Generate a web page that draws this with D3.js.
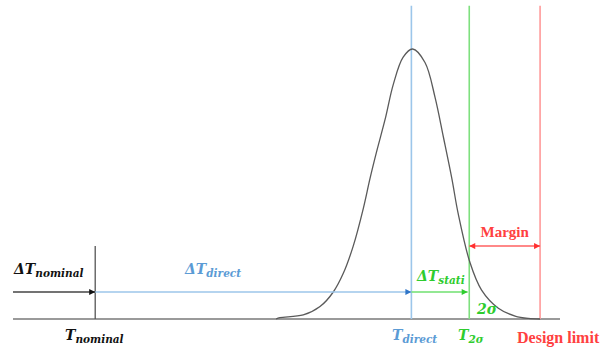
<!DOCTYPE html>
<html>
<head>
<meta charset="utf-8">
<script src="https://cdn.jsdelivr.net/npm/d3@7"></script>
<style>
  body { margin: 0; background: #fff; }
  text { font-family: "DejaVu Serif", "Liberation Serif", serif; }
</style>
</head>
<body>
<script>
var width = 608, height = 349;

// temperature axis (arbitrary units): nominal = 0, direct = 100
var tNominal = 0, tDirect = 100, t2Sigma = 118.3, tLimit = 140.7;
var axisExtent = [-26, 147];

// distribution (temperature, relative density)
var curveT = [57.2, 58.4, 65.8, 71.1, 75.3, 78.5, 81.6, 84.8, 86.9, 89.0, 91.7, 94.3, 97.4, 100.4,
              104.3, 107.5, 110.1, 112.8, 114.8, 118.5, 122.2, 127.5, 132.8, 137.0, 140.7];
var curveD = [0, 0.005, 0.015, 0.046, 0.10, 0.17, 0.27, 0.41, 0.52, 0.62, 0.74, 0.87, 0.97, 1.0,
              0.95, 0.82, 0.675, 0.52, 0.39, 0.21, 0.107, 0.04, 0.011, 0.002, 0];

// annotation levels (relative density)
var arrowLevel = 0.1, marginLevel = 0.27, nominalTop = 0.27, lineTop = 1.16;

var xScale = d3.scaleLinear().domain(axisExtent).range([13, 560]);
var yScale = d3.scaleLinear().domain([0, 1]).range([319, 49]);

var svg = d3.select("body").append("svg")
    .attr("width", width)
    .attr("height", height);

var defs = svg.append("defs");
function marker(id, color, orient) {
  defs.append("marker")
      .attr("id", id)
      .attr("viewBox", "0 0 10 10")
      .attr("refX", 10).attr("refY", 5)
      .attr("markerWidth", 7).attr("markerHeight", 6)
      .attr("markerUnits", "userSpaceOnUse")
      .attr("orient", orient)
      .append("path")
      .attr("d", "M0,0 L10,5 L0,10 Z")
      .attr("fill", color);
}
marker("arBlack", "#111", "auto");
marker("arBlue", "#2f75c8", "auto");
marker("arGreen", "#2ecc2e", "auto");
marker("arRed", "#ff3030", "auto");
marker("arRedStart", "#ff3030", "auto-start-reverse");

// baseline
svg.append("line")
    .attr("x1", xScale(axisExtent[0])).attr("x2", xScale(axisExtent[1]))
    .attr("y1", yScale(0)).attr("y2", yScale(0))
    .attr("stroke", "#9a9a9a").attr("stroke-width", 2);

// vertical lines
var verticals = [
  {t: tDirect, color: "#9cc6ea"},
  {t: t2Sigma, color: "#7ee07e"},
  {t: tLimit, color: "#ff9a9a"}
];
svg.selectAll(".vline").data(verticals).enter().append("line")
    .attr("class", "vline")
    .attr("x1", function(d) { return xScale(d.t); })
    .attr("x2", function(d) { return xScale(d.t); })
    .attr("y1", yScale(lineTop)).attr("y2", yScale(0))
    .attr("stroke", function(d) { return d.color; })
    .attr("stroke-width", 1.6);

svg.append("line")
    .attr("x1", xScale(tNominal)).attr("x2", xScale(tNominal))
    .attr("y1", yScale(nominalTop)).attr("y2", yScale(0))
    .attr("stroke", "#555").attr("stroke-width", 1.3);

// distribution curve
var curvePts = curveT.map(function(t, i) { return {t: t, d: curveD[i]}; });
var line = d3.line()
    .x(function(d) { return xScale(d.t); })
    .y(function(d) { return yScale(d.d); })
    .curve(d3.curveCatmullRom.alpha(0.5));
svg.append("path")
    .attr("d", line(curvePts))
    .attr("fill", "none")
    .attr("stroke", "#5a5a5a")
    .attr("stroke-width", 1.3);

// arrows
function arrow(t0, t1, lvl, color, mEnd, mStart) {
  var l = svg.append("line")
      .attr("x1", xScale(t0)).attr("x2", xScale(t1))
      .attr("y1", yScale(lvl)).attr("y2", yScale(lvl))
      .attr("stroke", color).attr("stroke-width", 1.5)
      .attr("marker-end", "url(#" + mEnd + ")");
  if (mStart) l.attr("marker-start", "url(#" + mStart + ")");
}
arrow(axisExtent[0], tNominal, arrowLevel, "#444", "arBlack");
arrow(tNominal, tDirect, arrowLevel, "#9cc6ea", "arBlue");
arrow(tDirect, t2Sigma - 0.5, arrowLevel, "#6fe06f", "arGreen");
arrow(t2Sigma, tLimit, marginLevel, "#ff6060", "arRed", "arRedStart");

// labels
function label(x, y, main, sub, color, weight, size) {
  var txt = svg.append("text")
      .attr("x", x).attr("y", y)
      .attr("fill", color)
      .attr("font-weight", weight)
      .attr("font-style", "italic")
      .attr("font-size", size);
  txt.append("tspan").text(main);
  if (sub) txt.append("tspan").attr("dy", 3).attr("font-size", size * 0.75).text(sub);
  return txt;
}
label(14, 274, "\u0394T", "nominal", "#111", "bold", 14);
label(65, 340, "T", "nominal", "#111", "bold", 14);
label(185, 274, "\u0394T", "direct", "#5b9bd5", "bold", 14);
label(392, 340, "T", "direct", "#5b9bd5", "bold", 14);
label(417, 281, "\u0394T", "stati", "#2ecc2e", "bold", 14);
label(458, 340, "T", "2\u03c3", "#2ecc2e", "bold", 14);
label(477, 314, "2\u03c3", null, "#2ecc2e", "bold", 14);

svg.append("text")
    .attr("x", xScale((t2Sigma + tLimit) / 2)).attr("y", 237)
    .attr("text-anchor", "middle")
    .attr("fill", "#ff4040").attr("font-weight", "bold").attr("font-size", 15)
    .style("font-family", "Liberation Serif")
    .text("Margin");
svg.append("text")
    .attr("x", 517).attr("y", 343)
    .attr("fill", "#ff4040").attr("font-weight", "bold").attr("font-size", 16)
    .style("font-family", "Liberation Serif")
    .text("Design limit");
</script>
</body>
</html>
